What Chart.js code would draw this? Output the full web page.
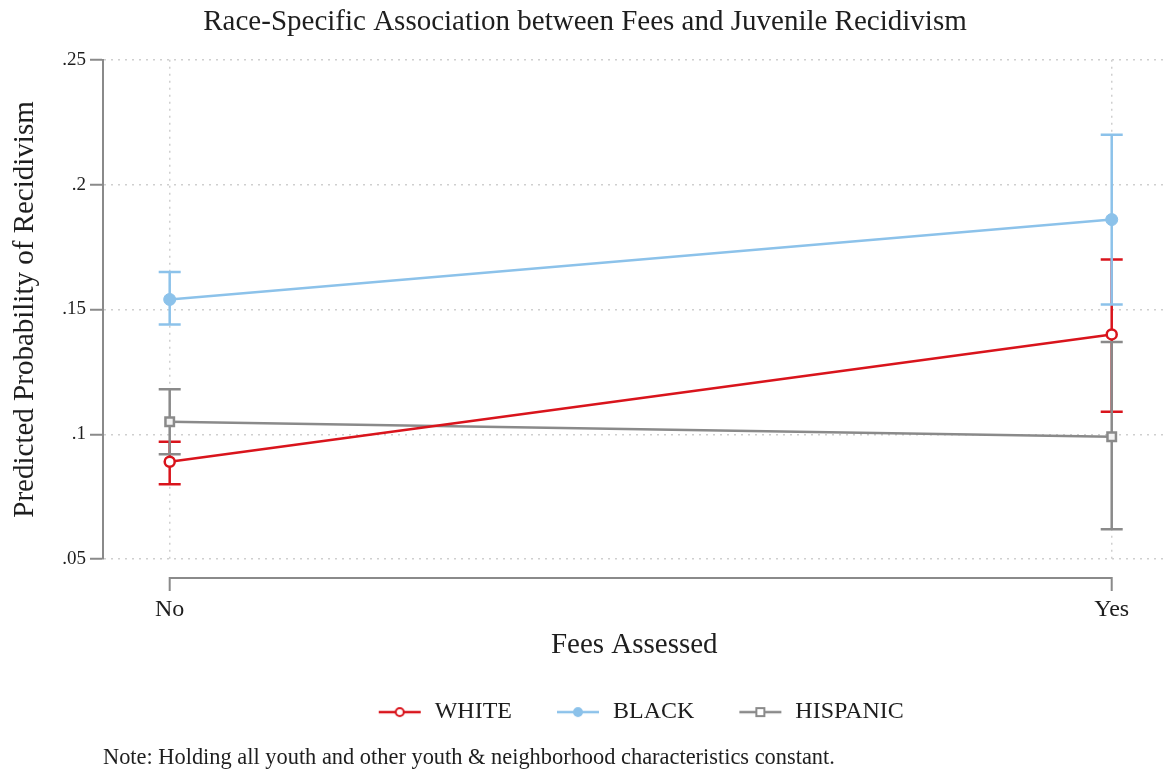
<!DOCTYPE html>
<html>
<head>
<meta charset="utf-8">
<style>
  html, body { margin: 0; padding: 0; background: #fff; }
  #box { width: 1174px; height: 775px; }
</style>
<script src="https://cdn.jsdelivr.net/npm/chart.js@4.4.1/dist/chart.umd.min.js"></script>
</head>
<body>
<div id="box"><canvas id="chart1"></canvas></div>
<script>
  // dados
  var categories = ['No', 'Yes']
  var xPositions = [0, 1]
  var yTicks = [0.05, 0.1, 0.15, 0.2, 0.25]

  var whiteValues = [0.089, 0.140]
  var whiteLow = [0.080, 0.109]
  var whiteHigh = [0.097, 0.170]

  var blackValues = [0.154, 0.186]
  var blackLow = [0.144, 0.152]
  var blackHigh = [0.165, 0.220]

  var hispValues = [0.105, 0.099]
  var hispLow = [0.092, 0.062]
  var hispHigh = [0.118, 0.137]

  var red = '#d9141c'
  var blue = '#8cc2ea'
  var gray = '#8a8a8a'
  var serif = '"Liberation Serif", "DejaVu Serif", serif'

  function points(vals) {
    return vals.map(function (v, i) { return { x: xPositions[i], y: v } })
  }

  // icone da legenda: linha com marcador no meio (margem vazia a esquerda)
  function legendIcon(color, shape, filled) {
    var c = document.createElement('canvas')
    c.width = 58
    c.height = 14
    var g = c.getContext('2d')
    g.strokeStyle = color
    g.lineWidth = 2.5
    g.beginPath()
    g.moveTo(14, 7)
    g.lineTo(56, 7)
    g.stroke()
    g.fillStyle = filled ? color : '#fff'
    g.lineWidth = 2
    g.beginPath()
    if (shape == 'rect') {
      g.rect(31, 3, 8, 8)
    } else {
      g.arc(35, 7, 4, 0, Math.PI * 2)
    }
    g.fill()
    g.stroke()
    return c
  }

  var icons = [
    legendIcon(red, 'circle', false),
    legendIcon(blue, 'circle', true),
    legendIcon(gray, 'rect', false)
  ]

  var bars = [
    { low: whiteLow, high: whiteHigh, color: red },
    { low: blackLow, high: blackHigh, color: blue },
    { low: hispLow, high: hispHigh, color: gray }
  ]

  // barras de erro e eixo x no estilo do Stata
  var extras = {
    id: 'extras',
    beforeDatasetsDraw: function (chart) {
      var ctx = chart.ctx
      var xs = chart.scales.x
      var ys = chart.scales.y
      ctx.save()
      ctx.lineWidth = 2.5
      bars.forEach(function (b) {
        ctx.strokeStyle = b.color
        for (var i = 0; i < xPositions.length; i++) {
          var px = xs.getPixelForValue(xPositions[i])
          var y1 = ys.getPixelForValue(b.low[i])
          var y2 = ys.getPixelForValue(b.high[i])
          ctx.beginPath()
          ctx.moveTo(px, y1)
          ctx.lineTo(px, y2)
          ctx.moveTo(px - 11, y1)
          ctx.lineTo(px + 11, y1)
          ctx.moveTo(px - 11, y2)
          ctx.lineTo(px + 11, y2)
          ctx.stroke()
        }
      })
      ctx.restore()
    },
    afterDraw: function (chart) {
      var ctx = chart.ctx
      var xs = chart.scales.x
      var a = chart.chartArea
      var x0 = xs.getPixelForValue(xPositions[0])
      var x1 = xs.getPixelForValue(xPositions[xPositions.length - 1])
      var yLine = a.bottom + 19
      ctx.save()
      ctx.strokeStyle = gray
      ctx.lineWidth = 2
      ctx.beginPath()
      ctx.moveTo(x0, yLine)
      ctx.lineTo(x1, yLine)
      xPositions.forEach(function (v) {
        var px = xs.getPixelForValue(v)
        ctx.moveTo(px, yLine - 1)
        ctx.lineTo(px, yLine + 13)
      })
      ctx.stroke()
      ctx.restore()
    }
  }

  const data = {
    datasets: [{
      label: 'WHITE',
      data: points(whiteValues),
      borderColor: red,
      backgroundColor: '#fff',
      borderWidth: 2.5,
      pointStyle: 'circle',
      pointRadius: 5,
      pointBorderWidth: 2.5
    },
    {
      label: 'BLACK',
      data: points(blackValues),
      borderColor: blue,
      backgroundColor: blue,
      borderWidth: 2.5,
      pointStyle: 'circle',
      pointRadius: 6,
      pointBorderWidth: 1
    },
    {
      label: 'HISPANIC',
      data: points(hispValues),
      borderColor: gray,
      backgroundColor: '#f2f2f2',
      borderWidth: 2.5,
      pointStyle: 'rect',
      pointRadius: 6,
      pointBorderWidth: 2.5
    }]
  }

  const config = {
    type: 'line',
    data: data,
    plugins: [extras],
    options: {
      responsive: true,
      maintainAspectRatio: false,
      animation: false,
      layout: { padding: { right: 4 } },
      plugins: {
        tooltip: { enabled: false },
        title: {
          display: true,
          text: 'Race-Specific Association between Fees and Juvenile Recidivism',
          color: '#1e1e1e',
          font: { family: serif, size: 29, weight: 'normal' },
          padding: { top: 5, bottom: 20 }
        },
        subtitle: {
          display: true,
          position: 'bottom',
          align: 'start',
          fullSize: false,
          text: 'Note: Holding all youth and other youth & neighborhood characteristics constant.',
          color: '#1e1e1e',
          font: { family: serif, size: 22.4, weight: 'normal' },
          padding: { top: 11, bottom: 3 }
        },
        legend: {
          position: 'bottom',
          fullSize: false,
          labels: {
            usePointStyle: true,
            pointStyleWidth: 58,
            padding: 31,
            color: '#1e1e1e',
            font: { family: serif, size: 24 },
            generateLabels: function (chart) {
              var items = Chart.defaults.plugins.legend.labels.generateLabels(chart)
              return items.map(function (it, i) {
                it.pointStyle = icons[i]
                return it
              })
            }
          }
        }
      },
      scales: {
        x: {
          type: 'linear',
          min: -0.0708,
          max: 1.0571,
          afterFit: function (scale) { scale.height = 110 },
          afterBuildTicks: function (scale) {
            scale.ticks = xPositions.map(function (v) { return { value: v } })
          },
          ticks: {
            padding: 36,
            maxRotation: 0,
            color: '#1e1e1e',
            font: { family: serif, size: 24 },
            callback: function (v) { return categories[xPositions.indexOf(v)] }
          },
          grid: { color: '#cfcfcf', lineWidth: 1.5, drawTicks: false },
          border: { display: false, dash: [2, 5] },
          title: {
            display: true,
            text: 'Fees Assessed',
            color: '#1e1e1e',
            font: { family: serif, size: 29 },
            padding: { top: 4, bottom: 6 }
          }
        },
        y: {
          min: 0.05,
          max: 0.25,
          afterFit: function (scale) { scale.width = 103 },
          afterBuildTicks: function (scale) {
            scale.ticks = yTicks.map(function (v) { return { value: v } })
          },
          ticks: {
            padding: 4,
            color: '#1e1e1e',
            font: { family: serif, size: 19 },
            callback: function (v) { return String(Number(v.toFixed(2))).replace(/^0/, '') }
          },
          grid: { color: '#cfcfcf', lineWidth: 1.5, tickColor: gray, tickLength: 13, tickWidth: 2, tickBorderDash: [] },
          border: { display: true, color: gray, width: 2, dash: [2, 5] },
          title: {
            display: true,
            text: 'Predicted Probability of Recidivism',
            color: '#1e1e1e',
            font: { family: serif, size: 29 },
            padding: { top: 8, bottom: 4 }
          }
        }
      }
    }
  }

  const myChart = new Chart(document.getElementById('chart1'), config)
</script>
</body>
</html>
